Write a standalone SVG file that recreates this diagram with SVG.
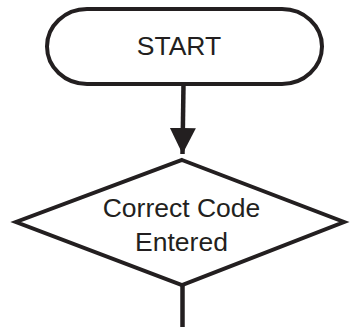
<svg xmlns="http://www.w3.org/2000/svg" width="350" height="327" viewBox="0 0 350 327">
<style>
.shape{fill:#fff;stroke:#231f20;stroke-width:4}
.lbl{font-family:"Liberation Sans",Arial,sans-serif;font-size:26.5px;fill:#231f20;text-anchor:middle}
.conn{stroke:#231f20;stroke-width:4.5;fill:none}
</style>
<defs>
<marker id="arrow" markerUnits="userSpaceOnUse" markerWidth="26" markerHeight="26" refX="26" refY="13" orient="auto">
<path d="M0,0 L26,13 L0,26 Z" fill="#231f20"/>
</marker>
</defs>
<rect width="350" height="327" fill="#fff"/>
<g id="connectors">
<line class="conn" x1="183.5" y1="84" x2="182.5" y2="154" marker-end="url(#arrow)"/>
<line class="conn" x1="182.5" y1="285" x2="182.5" y2="327"/>
</g>
<g id="start">
<rect class="shape" x="47" y="9" width="275" height="75" rx="40" ry="37.5"/>
<text class="lbl" x="179" y="54.5">START</text>
</g>
<g id="decision">
<polygon class="shape" points="182,160 344,222 182,285 16,222"/>
<text class="lbl" x="181.5" y="216.5">Correct Code</text>
<text class="lbl" x="181.5" y="251">Entered</text>
</g>
</svg>
